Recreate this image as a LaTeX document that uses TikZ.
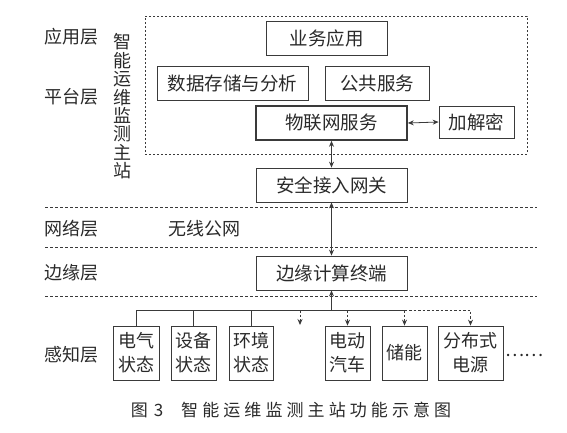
\documentclass[tikz,border=0pt]{standalone}
\usepackage{fontspec}
\setmainfont{Noto Sans CJK SC}
\usetikzlibrary{arrows.meta}
\definecolor{linec}{HTML}{3A3A3A}
\definecolor{txtc}{HTML}{2A2A2A}
\begin{document}
\begin{tikzpicture}[x=1pt,y=-1pt,
  every node/.style={text=txtc},
  box/.style={draw=linec, line width=0.8pt, minimum height=34pt, inner sep=0pt,
    font=\fontsize{18.5}{19}\selectfont},
  sbox/.style={draw=linec, line width=0.8pt, minimum height=54pt, inner sep=0pt,
    align=center, font=\fontsize{18}{24}\selectfont},
  lbl/.style={inner sep=0pt, font=\fontsize{18}{19}\selectfont},
  conn/.style={draw=linec, line width=0.8pt},
  tip/.style={-{Stealth[length=6pt,width=5pt,inset=2pt]}},
  tips/.style={{Stealth[length=6pt,width=5pt,inset=2pt]}-{Stealth[length=6pt,width=5pt,inset=2pt]}},
  sep/.style={draw=linec, line width=0.7pt, dash pattern=on 3pt off 2pt},
  dconn/.style={draw=linec, line width=0.8pt, dash pattern=on 2.5pt off 2pt},
  platform/.style={draw=linec, line width=0.7pt, dash pattern=on 2pt off 2pt, inner sep=0pt}
]
\useasboundingbox (0,0) rectangle (567,432);

% platform frame
\node[platform, minimum width=382pt, minimum height=138pt] (plat) at (336,85) {};

% left layer labels
\node[lbl] (lyy) at (71,37) {应用层};
\node[lbl] (lpt) at (71,97) {平台层};
\node[lbl] (lwl) at (71,229) {网络层};
\node[lbl] (lby) at (71,273) {边缘层};
\node[lbl] (lgz) at (71,355) {感知层};
\node[inner sep=0pt, align=center, font=\fontsize{18}{18.4}\selectfont] (zt) at (122,106.5)
  {智\\能\\运\\维\\监\\测\\主\\站};
\node[lbl, anchor=west] (wx) at (168,229) {无线公网};

% platform boxes
\node[box, minimum width=121pt] (yw) at (326.5,38) {业务应用};
\node[box, minimum width=151pt] (sj) at (232.5,83) {数据存储与分析};
\node[box, minimum width=104pt] (gg) at (377,83) {公共服务};
\node[box, minimum width=151pt, line width=1.6pt] (wl) at (331.5,123) {物联网服务};
\node[box, minimum width=75pt, minimum height=32pt] (jm) at (476.5,122) {加解密};

\node[box, minimum width=151pt] (aq) at (331.5,185) {安全接入网关};
\node[box, minimum width=151pt] (by) at (331.5,273) {边缘计算终端};

% separators
\coordinate (s1L) at (45,207); \coordinate (s1R) at (537,207);
\coordinate (s2L) at (45,247); \coordinate (s2R) at (537,247);
\coordinate (s3L) at (45,296); \coordinate (s3R) at (537,296);
\draw[sep] (s1L) -- (s1R);
\draw[sep] (s2L) -- (s2R);
\draw[sep] (s3L) -- (s3R);

% sensor boxes
\node[sbox, minimum width=46pt] (e1) at (136,353) {电气\\状态};
\node[sbox, minimum width=45pt] (e2) at (193.5,353) {设备\\状态};
\node[sbox, minimum width=44pt] (e3) at (251,353) {环境\\状态};
\node[sbox, minimum width=45pt] (e4) at (347.5,353) {电动\\汽车};
\node[sbox, minimum width=45pt] (e5) at (404.5,353) {储能};
\node[sbox, minimum width=65pt] (e6) at (470.5,353) {分布式\\电源};
\node[lbl, anchor=west] (dots) at (505,355) {……};

% connectors
\draw[conn, tips] (wl.east) -- (jm.west);
\draw[conn, tips] (wl.south -| aq.north) -- (aq.north);
\draw[conn, tips] (aq.south) -- (by.north);

\coordinate (busy) at (0,310);
\coordinate (gap) at (300,325);
\draw[conn] (e1.north) -- (e1.north |- busy) -- (e5.north |- busy);
\draw[conn] (e2.north) -- (e2.north |- busy);
\draw[conn] (e3.north) -- (e3.north |- busy);
\draw[conn, tip] (by.south |- busy) -- (by.south);
\draw[dconn, tip] (gap |- busy) -- (gap);
\draw[dconn, tip] (e4.north |- busy) -- (e4.north);
\draw[dconn, tip] (e5.north |- busy) -- (e5.north);
\draw[dconn, tip] (e5.north |- busy) -- (e6.north |- busy) -- (e6.north);

% caption
\node[inner sep=0pt, font=\fontsize{17}{18}\selectfont] (cap) at (291,410)
  {图\hspace{6pt}3\hspace{18pt}\addfontfeatures{LetterSpace=24}智能运维监测主站功能示意图};
\end{tikzpicture}
\end{document}
